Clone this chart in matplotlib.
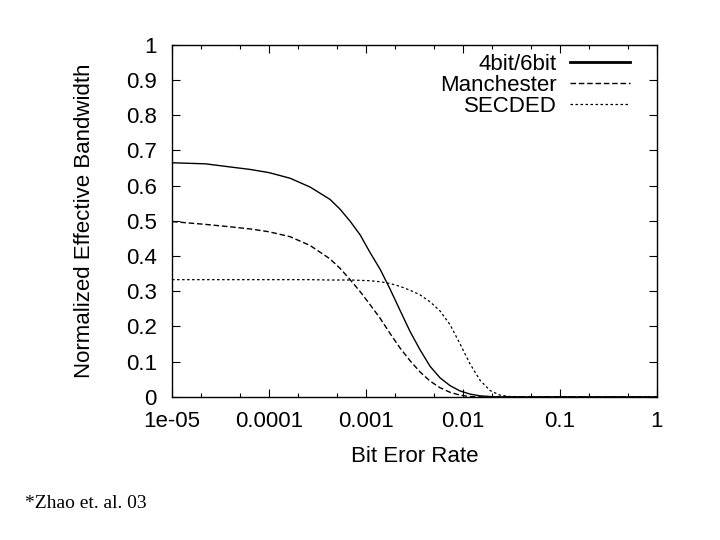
import matplotlib
matplotlib.use("Agg")
from matplotlib import pyplot as plt
from matplotlib.ticker import LogLocator, NullFormatter

ber = [1e-5, 2.2e-5, 4e-5, 6.4e-5, 1e-4, 1.65e-4, 2.65e-4, 4.25e-4, 5.4e-4, 6.85e-4,
       8.7e-4, 1.1e-3, 1.4e-3, 1.77e-3, 2.24e-3, 2.84e-3, 3.6e-3, 4.57e-3, 5.8e-3, 7.35e-3,
       9.3e-3, 1.18e-2, 1.5e-2, 1.9e-2, 2.4e-2, 3.05e-2, 4.9e-2, 1.0]

bit46 = [0.665, 0.662, 0.653, 0.646, 0.637, 0.621, 0.596, 0.561, 0.533, 0.499,
         0.460, 0.410, 0.362, 0.306, 0.246, 0.186, 0.134, 0.087, 0.054, 0.032,
         0.017, 0.008, 0.003, 0.001, 0.0, 0.0, 0.0, 0.0]
manchester = [0.498, 0.490, 0.483, 0.477, 0.469, 0.455, 0.430, 0.392, 0.365, 0.333,
              0.299, 0.262, 0.223, 0.180, 0.139, 0.103, 0.071, 0.045, 0.026, 0.013,
              0.005, 0.001, 0.0, 0.0, 0.0, 0.0, 0.0, 0.0]
secded = [0.333, 0.333, 0.333, 0.333, 0.333, 0.333, 0.333, 0.332, 0.332, 0.332,
          0.331, 0.330, 0.327, 0.322, 0.314, 0.303, 0.290, 0.270, 0.244, 0.205,
          0.151, 0.094, 0.047, 0.018, 0.005, 0.001, 0.0, 0.0]

xticks = [1e-5, 1e-4, 1e-3, 1e-2, 1e-1, 1]
xlabels = ['1e-05', '0.0001', '0.001', '0.01', '0.1', '1']
yticks = [0, 0.1, 0.2, 0.3, 0.4, 0.5, 0.6, 0.7, 0.8, 0.9, 1]
ylabels = ['0', '0.1', '0.2', '0.3', '0.4', '0.5', '0.6', '0.7', '0.8', '0.9', '1']

plt.rcParams['font.family'] = ['Liberation Sans', 'DejaVu Sans']

fig = plt.figure(figsize=(7.2, 5.4), dpi=100)
ax = fig.add_axes([0.239, 0.265, 0.6735, 0.652])

ax.plot(ber, bit46, color='black', lw=1.0, ls='-', label='4bit/6bit')
ax.plot(ber, manchester, color='black', lw=1.0, ls=(0, (4, 2)), label='Manchester')
ax.plot(ber, secded, color='black', lw=0.9, ls=(0, (2, 2)), label='SECDED')

ax.set_xscale('log')
ax.set_xlim(1e-5, 1)
ax.set_ylim(0, 1)
ax.set_xticks(xticks)
ax.set_xticklabels(xlabels)
ax.xaxis.set_minor_locator(LogLocator(base=10, subs=(2, 5)))
ax.xaxis.set_minor_formatter(NullFormatter())
ax.set_yticks(yticks)
ax.set_yticklabels(ylabels)

ax.tick_params(which='both', direction='in', top=True, right=True, labelsize=16, color='black')
ax.tick_params(which='major', length=6, width=0.8)
ax.tick_params(which='minor', length=3, width=0.8)
ax.tick_params(axis='y', which='major', pad=11)
ax.tick_params(axis='x', which='major', pad=10)
for s in ax.spines.values():
    s.set_linewidth(1.0)

ax.set_xlabel('Bit Eror Rate', fontsize=16, labelpad=10)
ax.set_ylabel('Normalized Effective Bandwidth', fontsize=16, labelpad=22)

leg = ax.legend(loc='upper right', frameon=False, fontsize=16, markerfirst=False,
                handlelength=2.7, handletextpad=0.6, labelspacing=0.0,
                borderaxespad=0.0, borderpad=0.0, bbox_to_anchor=(0.944, 0.975))
leg.get_lines()[0].set_linewidth(2.0)

fig.text(0.035, 0.0685, '*Zhao et. al. 03', fontsize=14, family='Liberation Serif', va='center')

fig.savefig('out.png', dpi=100)
